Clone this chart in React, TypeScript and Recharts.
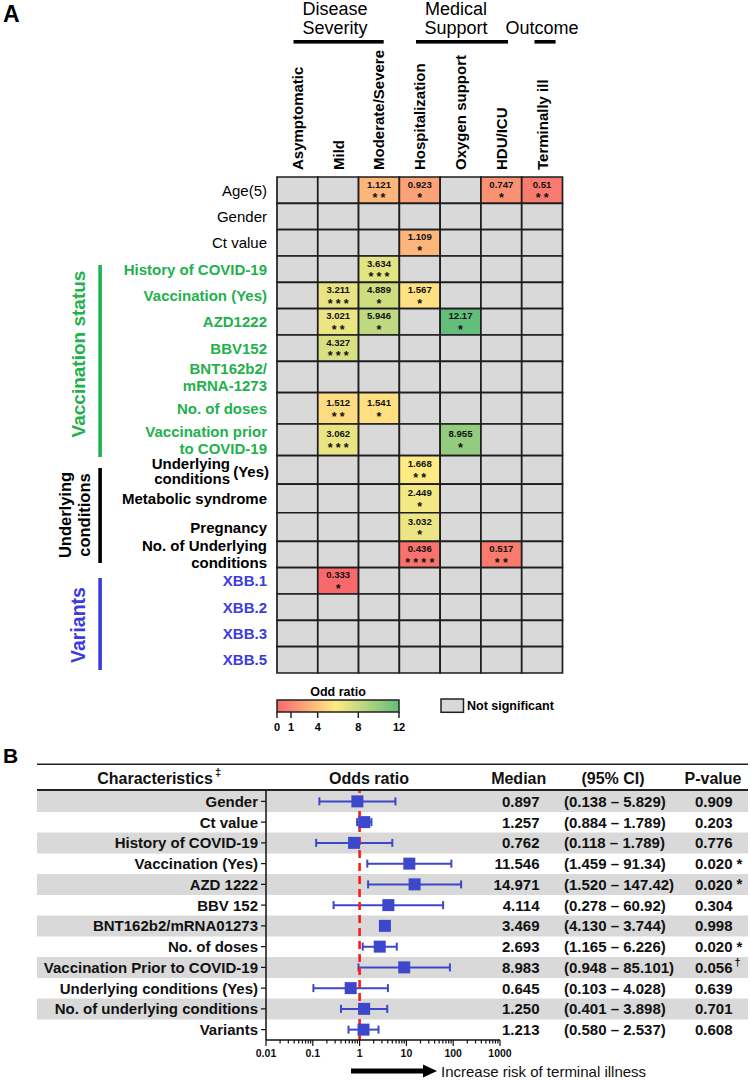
import React from 'react';
import {
  ScatterChart,
  Scatter,
  XAxis,
  YAxis,
  ReferenceArea,
  ReferenceLine,
  ErrorBar,
  BarChart,
  Bar,
} from 'recharts';

const FONT = '"Liberation Sans", Arial, Helvetica, sans-serif';
const GREEN = '#22b14c';
const BLUE_TXT = '#3c3cdc';
const MARK = '#3d47cc';
const NS_FILL = '#d9d9d9';
const GRID_STROKE = '#1e1e1e';

// ---------------- Panel A data ----------------
const outcomeColumns = [
  'Asymptomatic',
  'Mild',
  'Moderate/Severe',
  'Hospitalization',
  'Oxygen support',
  'HDU/ICU',
  'Terminally ill',
];

const factorRows = [
  'Age(5)',
  'Gender',
  'Ct value',
  'History of COVID-19',
  'Vaccination (Yes)',
  'AZD1222',
  'BBV152',
  'BNT162b2/mRNA-1273',
  'No. of doses',
  'Vaccination prior to COVID-19',
  'Underlying conditions (Yes)',
  'Metabolic syndrome',
  'Pregnancy',
  'No. of Underlying conditions',
  'XBB.1',
  'XBB.2',
  'XBB.3',
  'XBB.5',
];

const factorGroup = [
  'basic', 'basic', 'basic',
  'vaccination', 'vaccination', 'vaccination', 'vaccination', 'vaccination', 'vaccination', 'vaccination',
  'underlying', 'underlying', 'underlying', 'underlying',
  'variant', 'variant', 'variant', 'variant',
];

const N = null;
const oddsRatios: (number | null)[][] = [
  [N, N, 1.121, 0.923, N, 0.747, 0.51],
  [N, N, N, N, N, N, N],
  [N, N, N, 1.109, N, N, N],
  [N, N, 3.634, N, N, N, N],
  [N, 3.211, 4.889, 1.567, N, N, N],
  [N, 3.021, 5.946, N, 12.17, N, N],
  [N, 4.327, N, N, N, N, N],
  [N, N, N, N, N, N, N],
  [N, 1.512, 1.541, N, N, N, N],
  [N, 3.062, N, N, 8.955, N, N],
  [N, N, N, 1.668, N, N, N],
  [N, N, N, 2.449, N, N, N],
  [N, N, N, 3.032, N, N, N],
  [N, N, N, 0.436, N, 0.517, N],
  [N, 0.333, N, N, N, N, N],
  [N, N, N, N, N, N, N],
  [N, N, N, N, N, N, N],
  [N, N, N, N, N, N, N],
];

const significance: string[][] = [
  ['', '', '**', '*', '', '*', '**'],
  ['', '', '', '', '', '', ''],
  ['', '', '', '*', '', '', ''],
  ['', '', '***', '', '', '', ''],
  ['', '***', '*', '*', '', '', ''],
  ['', '**', '*', '', '*', '', ''],
  ['', '***', '', '', '', '', ''],
  ['', '', '', '', '', '', ''],
  ['', '**', '*', '', '', '', ''],
  ['', '***', '', '', '*', '', ''],
  ['', '', '', '**', '', '', ''],
  ['', '', '', '*', '', '', ''],
  ['', '', '', '*', '', '', ''],
  ['', '', '', '****', '', '**', ''],
  ['', '*', '', '', '', '', ''],
  ['', '', '', '', '', '', ''],
  ['', '', '', '', '', '', ''],
  ['', '', '', '', '', '', ''],
];

const legendTicks = [0, 1, 4, 8, 12];

// ---------------- Panel B data ----------------
const forestLabels = [
  'Gender',
  'Ct value',
  'History of COVID-19',
  'Vaccination (Yes)',
  'AZD 1222',
  'BBV 152',
  'BNT162b2/mRNA01273',
  'No. of doses',
  'Vaccination Prior to COVID-19',
  'Underlying conditions (Yes)',
  'No. of underlying conditions',
  'Variants',
];
const forestMedian = [0.897, 1.257, 0.762, 11.546, 14.971, 4.114, 3.469, 2.693, 8.983, 0.645, 1.25, 1.213];
// CI as drawn in the plot
const forestPlotLow = [0.138, 0.884, 0.118, 1.459, 1.52, 0.278, 3.469, 1.165, 0.948, 0.103, 0.401, 0.58];
const forestPlotHigh = [5.829, 1.789, 5.0, 91.34, 147.42, 60.92, 3.744, 6.226, 85.101, 4.028, 3.898, 2.537];
// CI as printed in the table
const ciLowText = ['0.138', '0.884', '0.118', '1.459', '1.520', '0.278', '4.130', '1.165', '0.948', '0.103', '0.401', '0.580'];
const ciHighText = ['5.829', '1.789', '1.789', '91.34', '147.42', '60.92', '3.744', '6.226', '85.101', '4.028', '3.898', '2.537'];
const pValueText = ['0.909', '0.203', '0.776', '0.020', '0.020', '0.304', '0.998', '0.020', '0.056', '0.639', '0.701', '0.608'];
const pValueMark = ['', '', '', '*', '*', '', '', '*', '†', '', '', ''];

// ---------------- layout constants ----------------
const ROW_SPAN = [1, 1, 1, 1, 1, 1, 1, 1.19, 1.19, 1.2, 1.085, 1.085, 1.085, 1, 1, 1, 1, 1];
const rowStarts: number[] = [];
let accRows = 0;
ROW_SPAN.forEach((s) => {
  rowStarts.push(accRows);
  accRows += s;
});
const ROW_TOTAL = accRows;
const rowCenters = rowStarts.map((s, i) => s + ROW_SPAN[i] / 2);
const colCenters = outcomeColumns.map((_, i) => i + 0.5);

const rowLabelLines: string[][] = [
  ['Age(5)'],
  ['Gender'],
  ['Ct value'],
  ['History of COVID-19'],
  ['Vaccination (Yes)'],
  ['AZD1222'],
  ['BBV152'],
  ['BNT162b2/', 'mRNA-1273'],
  ['No. of doses'],
  ['Vaccination prior', 'to COVID-19'],
  ['Underlying', 'conditions'],
  ['Metabolic syndrome'],
  ['Pregnancy'],
  ['No. of Underlying', 'conditions'],
  ['XBB.1'],
  ['XBB.2'],
  ['XBB.3'],
  ['XBB.5'],
];

// ---------------- colour scale (Excel-like 3 colour scale) ----------------
const sigValues = oddsRatios.flat().filter((v): v is number => v !== null);
const sortedVals = [...sigValues].sort((a, b) => a - b);
const vMin = sortedVals[0];
const vMax = sortedVals[sortedVals.length - 1];
const vMid = sortedVals[Math.floor(sortedVals.length / 2)];
const C_LOW = [248, 105, 107];
const C_MID = [255, 235, 132];
const C_HIGH = [99, 190, 123];
function mix(a: number[], b: number[], t: number) {
  const tt = Math.max(0, Math.min(1, t));
  const c = a.map((v, i) => Math.round(v + (b[i] - v) * tt));
  return `rgb(${c[0]},${c[1]},${c[2]})`;
}
function orColor(v: number) {
  if (v <= vMid) return mix(C_LOW, C_MID, (v - vMin) / (vMid - vMin));
  return mix(C_MID, C_HIGH, (v - vMid) / (vMax - vMid));
}

const sigCells = factorRows.flatMap((_, r) =>
  outcomeColumns
    .map((__, c) => ({ r, c }))
    .filter(({ c }) => oddsRatios[r][c] !== null)
    .map(({ c }) => ({ x: colCenters[c], y: rowCenters[r], v: oddsRatios[r][c], s: significance[r][c] }))
);

// ---------------- Panel A ----------------
const ColTick = (p: any) => {
  const { x, y, index } = p;
  return (
    <text
      x={x}
      y={y}
      transform={`rotate(-90 ${x} ${y})`}
      textAnchor="start"
      dominantBaseline="central"
      fontFamily={FONT}
      fontWeight="bold"
      fontSize={15}
      fill="#000"
    >
      {outcomeColumns[index]}
    </text>
  );
};

const RowTick = (p: any) => {
  const { x, y, index } = p;
  const g = factorGroup[index];
  const color = g === 'vaccination' ? GREEN : g === 'variant' ? BLUE_TXT : '#000';
  const weight = g === 'basic' ? 'normal' : 'bold';
  const lines = rowLabelLines[index];
  const common = {
    fontFamily: FONT,
    fontWeight: weight,
    fontSize: 15,
    fill: color,
    dominantBaseline: 'central' as const,
  };
  if (index === 10) {
    return (
      <g>
        <text {...common} x={x - 37} y={y - 6} textAnchor="end">Underlying</text>
        <text {...common} x={x - 37} y={y + 9} textAnchor="end">conditions</text>
        <text {...common} x={x + 2} y={y + 2} textAnchor="end">(Yes)</text>
      </g>
    );
  }
  if (lines.length === 2) {
    return (
      <g>
        <text {...common} x={x} y={y - 8.5} textAnchor="end">{lines[0]}</text>
        <text {...common} x={x} y={y + 8.5} textAnchor="end">{lines[1]}</text>
      </g>
    );
  }
  return (
    <text {...common} x={x} y={y} textAnchor="end">
      {lines[0]}
    </text>
  );
};

const CellText = (p: any) => {
  const { cx, cy, payload } = p;
  return (
    <g fontFamily={FONT} fontWeight="bold" fill="#111">
      <text x={cx} y={cy - 6} fontSize={9.6} textAnchor="middle" dominantBaseline="central">
        {String(payload.v)}
      </text>
      <text x={cx + 1.6} y={cy + 12.2} fontSize={12.5} textAnchor="middle" letterSpacing={3.2}>
        {payload.s}
      </text>
    </g>
  );
};

function HeatmapChart() {
  return (
    <ScatterChart width={750} height={720} margin={{ top: 0, right: 187.5, bottom: 47, left: 0 }}>
      <XAxis
        type="number"
        dataKey="x"
        domain={[0, 7]}
        orientation="top"
        height={177}
        ticks={colCenters}
        interval={0}
        tickLine={false}
        axisLine={false}
        tickSize={0}
        tickMargin={7}
        tick={ColTick}
        allowDataOverflow
      />
      <YAxis
        type="number"
        dataKey="y"
        domain={[0, ROW_TOTAL]}
        reversed
        width={277}
        ticks={rowCenters}
        interval={0}
        tickLine={false}
        axisLine={false}
        tickSize={0}
        tickMargin={10}
        tick={RowTick}
        allowDataOverflow
      />
      {factorRows.flatMap((_, r) =>
        outcomeColumns.map((__, c) => {
          const v = oddsRatios[r][c];
          return (
            <ReferenceArea
              key={`cell-${r}-${c}`}
              x1={c}
              x2={c + 1}
              y1={rowStarts[r]}
              y2={rowStarts[r] + ROW_SPAN[r]}
              fill={v === null ? NS_FILL : orColor(v)}
              fillOpacity={1}
              stroke={GRID_STROKE}
              strokeWidth={1.7}
              ifOverflow="visible"
            />
          );
        })
      )}
      <Scatter data={sigCells} shape={CellText} isAnimationActive={false} />
    </ScatterChart>
  );
}

// ---------------- Panel B ----------------
const forestData = forestLabels.map((name, i) => ({
  name,
  y: i + 0.5,
  median: forestMedian[i],
  err: [forestMedian[i] - forestPlotLow[i], forestPlotHigh[i] - forestMedian[i]],
}));
const bandData = forestLabels.map((name, i) => ({ name, shade: i % 2 === 0 ? 1 : 0 }));

const logTicks: number[] = [];
for (let e = -2; e < 3; e++) {
  for (let m = 1; m < 10; m++) logTicks.push(Number((m * Math.pow(10, e)).toPrecision(6)));
}
logTicks.push(1000);

const LogTick = (p: any) => {
  const { x, y, payload } = p;
  const v = payload.value;
  const lg = Math.log10(v);
  const major = Math.abs(lg - Math.round(lg)) < 1e-6;
  return (
    <g>
      <line x1={x} x2={x} y1={y} y2={y + (major ? 6 : 3.5)} stroke="#111" strokeWidth={1.2} />
      {major && (
        <text
          x={x}
          y={y + 13}
          textAnchor="middle"
          dominantBaseline="central"
          fontFamily={FONT}
          fontWeight="bold"
          fontSize={10.5}
          fill="#111"
        >
          {String(v)}
        </text>
      )}
    </g>
  );
};

const COL_MEDIAN_RIGHT = 539.5;
const COL_CI_LEFT = 564;
const COL_P_LEFT = 695;

const ForestTick = (p: any) => {
  const { x, y, index } = p;
  const i = index;
  const common = {
    fontFamily: FONT,
    fontWeight: 'bold' as const,
    fontSize: 15,
    fill: '#111',
    dominantBaseline: 'central' as const,
  };
  return (
    <g>
      <text {...common} x={x} y={y} textAnchor="end">{forestLabels[i]}</text>
      <text {...common} x={COL_MEDIAN_RIGHT} y={y} textAnchor="end">{forestMedian[i].toFixed(3)}</text>
      <text {...common} x={COL_CI_LEFT} y={y} textAnchor="start">{`(${ciLowText[i]} – ${ciHighText[i]})`}</text>
      <text {...common} x={COL_P_LEFT} y={y} textAnchor="start">
        {pValueText[i]}
        {pValueMark[i] === '*' && <tspan dx={4} dy={-1}>*</tspan>}
        {pValueMark[i] === '†' && <tspan dx={2} dy={-5} fontSize={11}>†</tspan>}
      </text>
    </g>
  );
};

const Square = (p: any) => {
  const { cx, cy } = p;
  return <rect x={cx - 6} y={cy - 6} width={12} height={12} fill={MARK} />;
};

function ForestChart() {
  return (
    <ScatterChart width={750} height={290} margin={{ top: 11, right: 250, bottom: 0, left: 37 }}>
      <XAxis
        type="number"
        dataKey="median"
        scale="log"
        domain={[0.01, 1000]}
        ticks={logTicks}
        interval={0}
        allowDataOverflow
        height={30}
        tickLine={false}
        tickSize={0}
        tickMargin={0}
        tick={LogTick}
        axisLine={{ stroke: '#111', strokeWidth: 1.5 }}
      />
      <YAxis
        type="number"
        dataKey="y"
        domain={[0, forestLabels.length]}
        reversed
        ticks={forestData.map((d) => d.y)}
        interval={0}
        width={229}
        tickSize={5}
        tickMargin={3}
        tickLine={{ stroke: '#111', strokeWidth: 1.2 }}
        axisLine={{ stroke: '#111', strokeWidth: 1.5 }}
        tick={ForestTick}
        allowDataOverflow
      />
      <Scatter data={forestData} shape={Square} isAnimationActive={false} fill={MARK}>
        <ErrorBar dataKey="err" direction="x" width={4} stroke={MARK} strokeWidth={2} />
      </Scatter>
      <ReferenceLine x={1} stroke="#ff1a1a" strokeWidth={2.6} strokeDasharray="8 5" />
    </ScatterChart>
  );
}

function BandChart() {
  return (
    <BarChart
      layout="vertical"
      width={711}
      height={249}
      data={bandData}
      margin={{ top: 0, right: 0, bottom: 0, left: 0 }}
      barCategoryGap={0}
    >
      <XAxis type="number" domain={[0, 1]} hide />
      <YAxis type="category" dataKey="name" hide />
      <Bar dataKey="shade" fill="#d9d9d9" isAnimationActive={false} />
    </BarChart>
  );
}

// ---------------- decorations ----------------
const headerGroups = [
  { lines: ['Disease', 'Severity'], cx: 335, x1: 293.5, x2: 383.7 },
  { lines: ['Medical', 'Support'], cx: 456, x1: 416, x2: 508 },
  { lines: ['', 'Outcome'], cx: 542, x1: 534.5, x2: 555.6 },
];
const legendTickX = [277, 291, 317.7, 358.3, 399];

function Decor() {
  const f = { fontFamily: FONT };
  return (
    <svg width={750} height={1080} style={{ position: 'absolute', left: 0, top: 0, pointerEvents: 'none' }}>
      <defs>
        <linearGradient id="orGrad" x1="0" x2="1" y1="0" y2="0">
          <stop offset="0%" stopColor="#F8696B" />
          <stop offset="48%" stopColor="#FFEB84" />
          <stop offset="100%" stopColor="#63BE7B" />
        </linearGradient>
      </defs>
      <text {...f} x={3} y={22} fontSize={23} fontWeight="bold">A</text>

      {headerGroups.map((g, i) => (
        <g key={i}>
          {g.lines[0] && (
            <text {...f} x={g.cx} y={15} fontSize={18} textAnchor="middle">{g.lines[0]}</text>
          )}
          <text {...f} x={g.cx} y={34} fontSize={18} textAnchor="middle">{g.lines[1]}</text>
          <rect x={g.x1} y={40} width={g.x2 - g.x1} height={3.6} fill="#000" />
        </g>
      ))}

      {/* side group labels */}
      <rect x={98.3} y={265} width={3.6} height={192} fill={GREEN} />
      <text {...f} x={78} y={354} fontSize={19} fontWeight="bold" fill={GREEN} textAnchor="middle" dominantBaseline="central" transform="rotate(-90 78 354)">
        Vaccination status
      </text>
      <rect x={98.3} y={468} width={3.6} height={95} fill="#000" />
      <text {...f} x={65} y={515} fontSize={16.5} fontWeight="bold" textAnchor="middle" dominantBaseline="central" transform="rotate(-90 65 515)">
        Underlying
      </text>
      <text {...f} x={84} y={515} fontSize={16.5} fontWeight="bold" textAnchor="middle" dominantBaseline="central" transform="rotate(-90 84 515)">
        conditions
      </text>
      <rect x={98.3} y={578} width={3.6} height={92} fill={BLUE_TXT} />
      <text {...f} x={78} y={625} fontSize={19.5} fontWeight="bold" fill={BLUE_TXT} textAnchor="middle" dominantBaseline="central" transform="rotate(-90 78 625)">
        Variants
      </text>

      {/* colour legend */}
      <text {...f} x={338} y={692} fontSize={12.5} fontWeight="bold" textAnchor="middle" dominantBaseline="central">Odd ratio</text>
      <rect x={277} y={700} width={122} height={12} fill="url(#orGrad)" stroke="#222" strokeWidth={1.5} />
      {legendTicks.map((t, i) => (
        <g key={t}>
          <line x1={legendTickX[i]} x2={legendTickX[i]} y1={712} y2={718} stroke="#222" strokeWidth={1.5} />
          <text {...f} x={legendTickX[i]} y={727} fontSize={11} fontWeight="bold" textAnchor="middle" dominantBaseline="central">{t}</text>
        </g>
      ))}
      <rect x={441} y={699} width={22.5} height={13.3} fill={NS_FILL} stroke="#222" strokeWidth={1.5} />
      <text {...f} x={467} y={706} fontSize={12.5} fontWeight="bold" dominantBaseline="central">Not significant</text>

      {/* panel B */}
      <text {...f} x={3} y={763} fontSize={21} fontWeight="bold">B</text>
      <line x1={37} x2={748} y1={764.3} y2={764.3} stroke="#222" strokeWidth={1.5} />
      <line x1={37} x2={748} y1={790} y2={790} stroke="#222" strokeWidth={2} />
      <g {...f} fontSize={16} fontWeight="bold" fill="#111">
        <text x={155} y={778} textAnchor="middle" dominantBaseline="central">Characteristics</text>
        <text x={215} y={772} fontSize={11} dominantBaseline="central">‡</text>
        <text x={369} y={778} textAnchor="middle" dominantBaseline="central">Odds ratio</text>
        <text x={518.7} y={778} textAnchor="middle" dominantBaseline="central">Median</text>
        <text x={613} y={778} textAnchor="middle" dominantBaseline="central">(95% CI)</text>
        <text x={713} y={778} textAnchor="middle" dominantBaseline="central">P-value</text>
      </g>
      <rect x={351} y={1068.5} width={74} height={5} fill="#000" />
      <polygon points="423,1064.5 437,1071 423,1077.5" fill="#000" />
      <text {...f} x={441} y={1071} fontSize={15} dominantBaseline="central" fill="#111">Increase risk of terminal illness</text>
    </svg>
  );
}

export default function App() {
  return (
    <div
      style={{
        position: 'absolute',
        left: 0,
        top: 0,
        width: 750,
        height: 1080,
        background: '#fff',
        overflow: 'hidden',
        fontFamily: FONT,
      }}
    >
      <div style={{ position: 'absolute', left: 37, top: 791 }}>
        <BandChart />
      </div>
      <div style={{ position: 'absolute', left: 0, top: 0 }}>
        <HeatmapChart />
      </div>
      <div style={{ position: 'absolute', left: 0, top: 780 }}>
        <ForestChart />
      </div>
      <Decor />
    </div>
  );
}
